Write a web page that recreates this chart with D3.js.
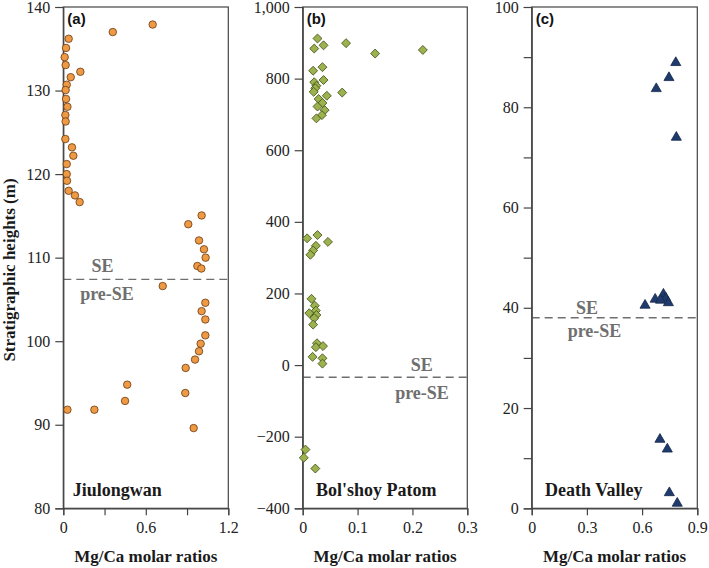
<!DOCTYPE html>
<html><head><meta charset="utf-8">
<script src="https://cdn.jsdelivr.net/npm/d3@7"></script>
<style>body{margin:0;background:#fff}svg{display:block}</style>
</head><body>
<script>
// ---- data ----
const jiuRatio  = [0.039,0.36,0.65,0.02,0.01,0.017,0.124,0.054,0.025,0.017,0.02,0.03,0.015,0.017,0.015,0.063,0.073,0.025,0.025,0.027,0.039,0.085,0.119,1.006,0.909,0.987,1.023,1.035,0.975,1.004,0.723,1.033,1.006,1.033,1.033,0.999,0.987,0.958,0.89,0.465,0.887,0.449,0.03,0.226,0.948];
const jiuHeight = [136.2,137.0,137.9,135.1,134.0,133.05,132.25,131.6,130.7,130.06,129.0,128.06,127.07,126.3,124.2,123.2,122.2,121.2,120.0,119.2,118.0,117.45,116.65,115.05,114.0,112.06,111.0,110.0,109.0,108.7,106.6,104.6,103.6,102.6,100.7,99.7,98.8,97.8,96.8,94.8,93.8,92.85,91.8,91.8,89.6];
const bolRatio  = [0.027,0.021,0.038,0.079,0.132,0.219,0.019,0.036,0.021,0.038,0.025,0.023,0.020,0.072,0.044,0.029,0.036,0.027,0.040,0.035,0.025,0.008,0.027,0.046,0.024,0.019,0.014,0.016,0.022,0.012,0.024,0.025,0.021,0.019,0.026,0.024,0.037,0.018,0.036,0.036,0.005,0.002,0.023];
const bolHeight = [912,884,893,899,870,880,822,832,790,796,780,773,763,761,752,743,732,722,712,698,689,354,363,344,333,320,308,185,166,145,152,140,131,113,61,50,53,23,19,4,-236,-259,-289];
const dvRatio   = [0.783,0.746,0.677,0.786,0.616,0.671,0.716,0.729,0.743,0.70,0.697,0.737,0.748,0.791];
const dvHeight  = [88.9,85.9,83.7,74.0,40.5,41.7,42.7,41.9,41.0,41.5,13.75,11.8,3.1,1.0];
const seLevels  = [107.4,-34,38];
const panelTags = ["(a)","(b)","(c)"];
const siteNames = ["Jiulongwan","Bol'shoy Patom","Death Valley"];
const xDomains  = [[0,1.2],[0,0.3],[0,0.9]];
const yDomains  = [[80,140],[-400,1000],[0,100]];
const xTickVals = [[0,0.3,0.6,0.9,1.2],[0,0.1,0.2,0.3],[0,0.3,0.6,0.9]];
const xTickLbls = [[0,0.6,1.2],[0,0.1,0.2,0.3],[0,0.3,0.6,0.9]];
const yTickVals = [[80,90,100,110,120,130,140],[-400,-200,0,200,400,600,800,1000],[0,10,20,30,40,50,60,70,80,90,100]];
const yTickLbls = [[80,90,100,110,120,130,140],[-400,-200,0,200,400,600,800,1000],[0,20,40,60,80,100]];
const xTitle = "Mg/Ca molar ratios";
const yTitle = "Stratigraphic heights (m)";

// ---- layout ----
const W=709,H=568, plotTop=7, plotBottom=508.3;
const lefts=[63.3,302.7,531.7], widths=[165,164.6,165.6];
const seLbl=[{x:102.5,y1:272,x2:107,y2:300},{x:421.7,y1:371,x2:422,y2:399},{x:587,y1:314,x2:594.5,y2:337}];
const serif="'Liberation Serif','Times New Roman',serif";
const svg=d3.select("body").append("svg").attr("width",W).attr("height",H);

const series=[
  {x:jiuRatio,y:jiuHeight,sym:d3.symbolCircle,size:44,rot:0,fill:"#EE9A45",stroke:"#6a3a12"},
  {x:bolRatio,y:bolHeight,sym:d3.symbolSquare,size:40,rot:45,fill:"#9CB24E",stroke:"#44521a"},
  {x:dvRatio,y:dvHeight,sym:d3.symbolTriangle,size:44,rot:0,fill:"#1F3B6C",stroke:"#14264a"}
];

for(let i=0;i<3;i++){
  const x=d3.scaleLinear().domain(xDomains[i]).range([lefts[i],lefts[i]+widths[i]]);
  const y=d3.scaleLinear().domain(yDomains[i]).range([plotBottom,plotTop]);
  const g=svg.append("g");
  g.append("rect").attr("x",lefts[i]).attr("y",plotTop).attr("width",widths[i]).attr("height",plotBottom-plotTop)
   .attr("fill","none").attr("stroke","#444").attr("stroke-width",1.2);
  g.append("line").attr("x1",lefts[i]).attr("x2",lefts[i]+widths[i]).attr("y1",y(seLevels[i])).attr("y2",y(seLevels[i]))
   .attr("stroke","#6f6f6f").attr("stroke-width",1.4).attr("stroke-dasharray","8,5");
  const fmt=i===1?d3.format(","):d3.format("");
  const ya=g.append("g").attr("transform",`translate(${lefts[i]},0)`)
    .call(d3.axisLeft(y).tickValues(yTickVals[i]).tickSize(8).tickPadding(5)
      .tickFormat(d=>yTickLbls[i].includes(d)?fmt(d):""));
  const xa=g.append("g").attr("transform",`translate(0,${plotBottom})`)
    .call(d3.axisBottom(x).tickValues(xTickVals[i]).tickSize(7).tickPadding(6)
      .tickFormat(d=>xTickLbls[i].some(v=>Math.abs(v-d)<1e-9)?d3.format("")(d):""));
  [ya,xa].forEach(a=>{
    a.select(".domain").attr("stroke","#444").attr("stroke-width",1.2);
    a.selectAll(".tick line").attr("stroke","#444").attr("stroke-width",1.2);
    a.selectAll("text").attr("font-family",serif).attr("font-size",16).attr("fill","#222");
  });
  const s=series[i];
  g.selectAll("path.pt").data(s.x.map((v,k)=>[v,s.y[k]])).join("path").attr("class","pt")
   .attr("transform",d=>`translate(${x(d[0])},${y(d[1])}) rotate(${s.rot})`)
   .attr("d",d3.symbol().type(s.sym).size(s.size))
   .attr("fill",s.fill).attr("stroke",s.stroke).attr("stroke-width",0.8);
  g.append("text").attr("x",lefts[i]+4).attr("y",24).text(panelTags[i])
   .attr("font-family","'Liberation Sans',Arial,sans-serif").attr("font-weight","bold").attr("font-size",15).attr("fill","#111");
  g.append("text").attr("x",[72.7,316,545][i]).attr("y",496).text(siteNames[i])
   .attr("font-family",serif).attr("font-weight","bold").attr("font-size",18).attr("fill","#1a1a1a");
  g.append("text").attr("x",seLbl[i].x).attr("y",seLbl[i].y1).attr("text-anchor","middle").text("SE")
   .attr("font-family",serif).attr("font-weight","bold").attr("font-size",18).attr("fill","#6f6f6f");
  g.append("text").attr("x",seLbl[i].x2).attr("y",seLbl[i].y2).attr("text-anchor","middle").text("pre-SE")
   .attr("font-family",serif).attr("font-weight","bold").attr("font-size",18).attr("fill","#6f6f6f");
  g.append("text").attr("x",lefts[i]+widths[i]/2).attr("y",562).attr("text-anchor","middle").text(xTitle)
   .attr("font-family",serif).attr("font-weight","bold").attr("font-size",17).attr("fill","#1a1a1a");
}
svg.append("text").attr("transform","translate(15,270) rotate(-90)").attr("text-anchor","middle").text(yTitle)
  .attr("font-family",serif).attr("font-weight","bold").attr("font-size",17).attr("fill","#1a1a1a");
</script>
</body></html>
